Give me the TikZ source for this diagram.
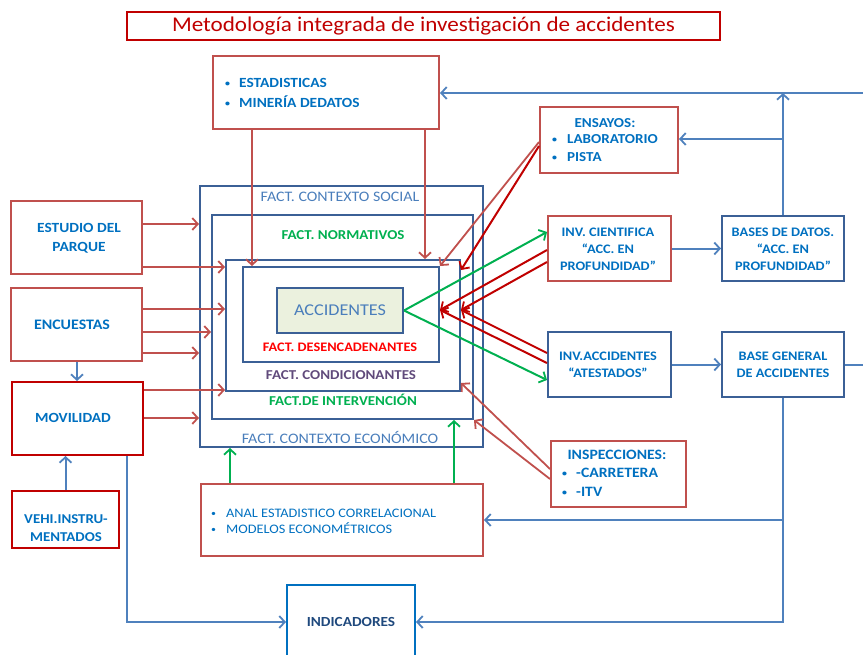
\documentclass[tikz,border=0pt]{standalone}
\usepackage{fontspec}
\setmainfont{Carlito}[FakeStretch=1.1]
\usetikzlibrary{arrows.meta,calc}

\definecolor{lred}{HTML}{C0504D}
\definecolor{dred}{HTML}{C00000}
\definecolor{bline}{HTML}{4F81BD}
\definecolor{bframe}{HTML}{3B6096}
\definecolor{tblue}{HTML}{0070C0}
\definecolor{cblue}{HTML}{4A7EBB}
\definecolor{gfact}{HTML}{00B050}
\definecolor{pfact}{HTML}{604A7B}
\definecolor{accfill}{HTML}{EBF1DE}
\definecolor{indblue}{HTML}{0070C0}
\definecolor{indtext}{HTML}{1F497D}

\newcommand{\szf}[2]{\fontsize{#1}{#2}\selectfont}
% small list bullet followed by a fixed gap
\newcommand{\bulmark}[1]{\makebox[#1][l]{\raisebox{0.15ex}{\szf{9}{9}\textbullet}}}

\tikzset{
  box/.style={rectangle, draw, line width=2pt, inner sep=0pt},
  rbox/.style={box, draw=lred},
  drbox/.style={box, draw=dred},
  bbox/.style={box, draw=bframe},
  lbl/.style={font=\bfseries\szf{13}{17}, text=tblue, align=center, inner sep=0pt},
  blbl/.style={font=\bfseries\szf{14}{16}, text=tblue, inner sep=0pt, anchor=west},
  fact/.style={font=\bfseries\szf{13.6}{15}, inner sep=0pt},
  tip/.style={-{Straight Barb[length=5.5pt,width=12pt,line width=1.8pt]}},
  rarr/.style={tip, draw=lred, line width=1.8pt},
  drarr/.style={tip, draw=dred, line width=2pt},
  garr/.style={tip, draw=gfact, line width=2pt},
  barr/.style={tip, draw=bline, line width=2pt},
  bln/.style={draw=bline, line width=2pt},
}

\begin{document}
\begin{tikzpicture}[x=1pt,y=-1pt]
\useasboundingbox (0,0) rectangle (863,654);
\clip (0,0) rectangle (863,654);

% title
\node[drbox, line width=1.6pt, minimum width=593pt, minimum height=28pt,
      font=\szf{21}{24}, text=dred] (title) at (423.5,26)
      {Metodología integrada de investigación de accidentes};

% statistics box
\node[rbox, minimum width=226pt, minimum height=73pt] (est) at (326,92.5) {};
\node[blbl] (est1) at (225,83) {\bulmark{14pt}ESTADISTICAS};
\node[blbl] (est2) at (225,102) {\bulmark{14pt}MINERÍA DEDATOS};

% tests box
\node[rbox, minimum width=138pt, minimum height=66pt] (ens) at (609,140) {};
\node[lbl, font=\bfseries\szf{13.7}{16}] (ens0) at (605,123) {ENSAYOS:};
\node[blbl, font=\bfseries\szf{13.7}{16}] (ens1) at (552,139) {\bulmark{15pt}LABORATORIO};
\node[blbl, font=\bfseries\szf{13.7}{16}] (ens2) at (552,157) {\bulmark{15pt}PISTA};

% nested factor frames
\node[bbox, minimum width=283pt, minimum height=261pt] (social) at (341.5,316.5) {};
\node[bbox, minimum width=261pt, minimum height=204pt] (norm) at (342.5,317) {};
\node[bbox, minimum width=234pt, minimum height=131pt] (cond) at (343,325.5) {};
\node[bbox, minimum width=196pt, minimum height=95pt] (desc) at (341,314.5) {};
\node[bbox, fill=accfill, minimum width=126pt, minimum height=45pt,
      font=\szf{16.5}{18}, text=cblue] (acc) at (340,310.5) {ACCIDENTES};

\node[fact, font=\szf{14.5}{16}, text=cblue] (fsoc) at (340,197) {FACT. CONTEXTO SOCIAL};
\node[fact, text=gfact] (fnorm) at (343,235) {FACT. NORMATIVOS};
\node[fact, font=\bfseries\szf{13}{15}, text=red] (fdesc) at (340,347) {FACT. DESENCADENANTES};
\node[fact, text=pfact] (fcond) at (341,375) {FACT. CONDICIONANTES};
\node[fact, text=gfact] (fint) at (343,400) {FACT.DE INTERVENCIÓN};
\node[fact, font=\szf{14.5}{16}, text=cblue] (feco) at (340,437) {FACT. CONTEXTO ECONÓMICO};

% left column
\node[rbox, minimum width=131pt, minimum height=73pt] (estudio) at (76.5,237.5) {};
\node[lbl, font=\bfseries\szf{14}{19}] (estudiot) at (79,238.5) {ESTUDIO DEL\\PARQUE};
\node[rbox, minimum width=131pt, minimum height=73pt] (encu) at (76.5,324.5) {};
\node[lbl, font=\bfseries\szf{14.5}{17}] (encut) at (72,325) {ENCUESTAS};
\node[drbox, minimum width=131pt, minimum height=73pt] (movil) at (77.5,418.5) {};
\node[lbl, font=\bfseries\szf{14}{17}] (movilt) at (73,418) {MOVILIDAD};
\node[drbox, minimum width=107pt, minimum height=57pt] (vehi) at (65.5,519.5) {};
\node[lbl, font=\bfseries\szf{13.5}{18}] (vehit) at (66,528) {VEHI.INSTRU-\\MENTADOS};

% analysis box
\node[rbox, minimum width=282pt, minimum height=72pt] (anal) at (342,520) {};
\node[blbl, font=\szf{13}{15}] (anal1) at (211,513) {\bulmark{15pt}ANAL ESTADISTICO CORRELACIONAL};
\node[blbl, font=\szf{13}{15}] (anal2) at (211,528) {\bulmark{15pt}MODELOS ECONOMÉTRICOS};

% indicators
\node[box, draw=indblue, minimum width=128pt, minimum height=74pt,
      font=\bfseries\szf{13.9}{16}, text=indtext] (indic) at (351,622) {INDICADORES};

% investigation and data boxes
\node[rbox, minimum width=123pt, minimum height=65pt] (cient) at (609.5,248.5) {};
\node[lbl] (cientt) at (608,249) {INV. CIENTIFICA\\“ACC. EN\\PROFUNDIDAD”};
\node[bbox, minimum width=122pt, minimum height=65pt] (bases) at (783,248.5) {};
\node[lbl] (basest) at (783,249) {BASES DE DATOS.\\“ACC. EN\\PROFUNDIDAD”};
\node[bbox, minimum width=123pt, minimum height=65pt] (invacc) at (609.5,364.5) {};
\node[lbl] (invacct) at (608,365) {INV.ACCIDENTES\\“ATESTADOS”};
\node[bbox, minimum width=122pt, minimum height=65pt] (bgen) at (783,364.5) {};
\node[lbl] (bgent) at (783,365) {BASE GENERAL\\DE ACCIDENTES};

% inspections
\node[rbox, minimum width=135pt, minimum height=66pt] (insp) at (618.5,474) {};
\node[lbl, font=\bfseries\szf{14.3}{16}] (insp0) at (617,455) {INSPECCIONES:};
\node[blbl, font=\bfseries\szf{14.3}{16}] (insp1) at (562,473) {\bulmark{14pt}-CARRETERA};
\node[blbl, font=\bfseries\szf{14.3}{16}] (insp2) at (562,492) {\bulmark{14pt}-ITV};

% free ends on the right margin
\coordinate (rtop) at (863,93);
\coordinate (rmid) at (863,364.5);

% inputs from the left column
\draw[rarr] (estudio.east |- 0,224) -- (social.west |- 0,224);
\draw[rarr] (estudio.east |- 0,267) -- (cond.west |- 0,267);
\draw[rarr] (encu.east |- 0,309) -- (cond.west |- 0,309);
\draw[rarr] (encu.east |- 0,332) -- (norm.west |- 0,332);
\draw[rarr] (encu.east |- 0,353) -- (social.west |- 0,353);
\draw[rarr] (movil.east |- 0,390) -- (cond.west |- 0,390);
\draw[rarr] (movil.east |- 0,418) -- (social.west |- 0,418);
\draw[barr] (encu.south -| 77,0) -- (movil.north -| 77,0);
\draw[barr] (vehi.north) -- (movil.south -| vehi.north);
\draw[barr] (movil.south -| 127,0) |- (indic.west);

% statistics feeding the core
\draw[rarr] (est.south -| 252,0) -- (desc.north -| 252,0);
\draw[rarr] (est.south -| 425,0) -- (cond.north -| 425,0);

% tests
\draw[rarr] (ens.west |- 0,142) -- (desc.north east);
\draw[drarr] (ens.west |- 0,146) -- (cond.east |- 0,270);

% in-depth and police investigations
\draw[drarr] (cient.west |- 0,250) -- (desc.east |- 0,310);
\draw[drarr] (cient.west |- 0,262) -- (cond.east |- 0,310);
\draw[drarr] (invacc.west |- 0,353) -- (cond.east |- 0,310);
\draw[drarr] (invacc.west |- 0,363) -- (desc.east |- 0,310);
\draw[garr] (acc.east) -- (cient.west |- 0,232);
\draw[garr] (acc.east) -- (invacc.west |- 0,380);

% inspections
\draw[rarr] (insp.west |- 0,469) -- (cond.east |- 0,383);
\draw[rarr] (insp.west |- 0,479) -- (norm.south east);

% analysis towards the frames
\draw[garr] (anal.north -| 230,0) -- (social.south -| 230,0);
\draw[garr] (anal.north -| 454,0) -- (norm.south -| 454,0);

% databases and feedback lines
\draw[barr] (cient.east) -- (bases.west);
\draw[barr] (invacc.east) -- (bgen.west);
\draw[barr] (rtop) -- (est.east |- rtop);
\draw[barr] (bases.north) -- (bases.north |- rtop);
\draw[barr] (bases.north |- 0,139) -- (ens.east |- 0,139);
\draw[bln] (bgen.east) -- (rmid);
\draw[barr] (bgen.south) |- (indic.east);
\draw[barr] (bgen.south |- 0,520) -- (anal.east);
\end{tikzpicture}
\end{document}
